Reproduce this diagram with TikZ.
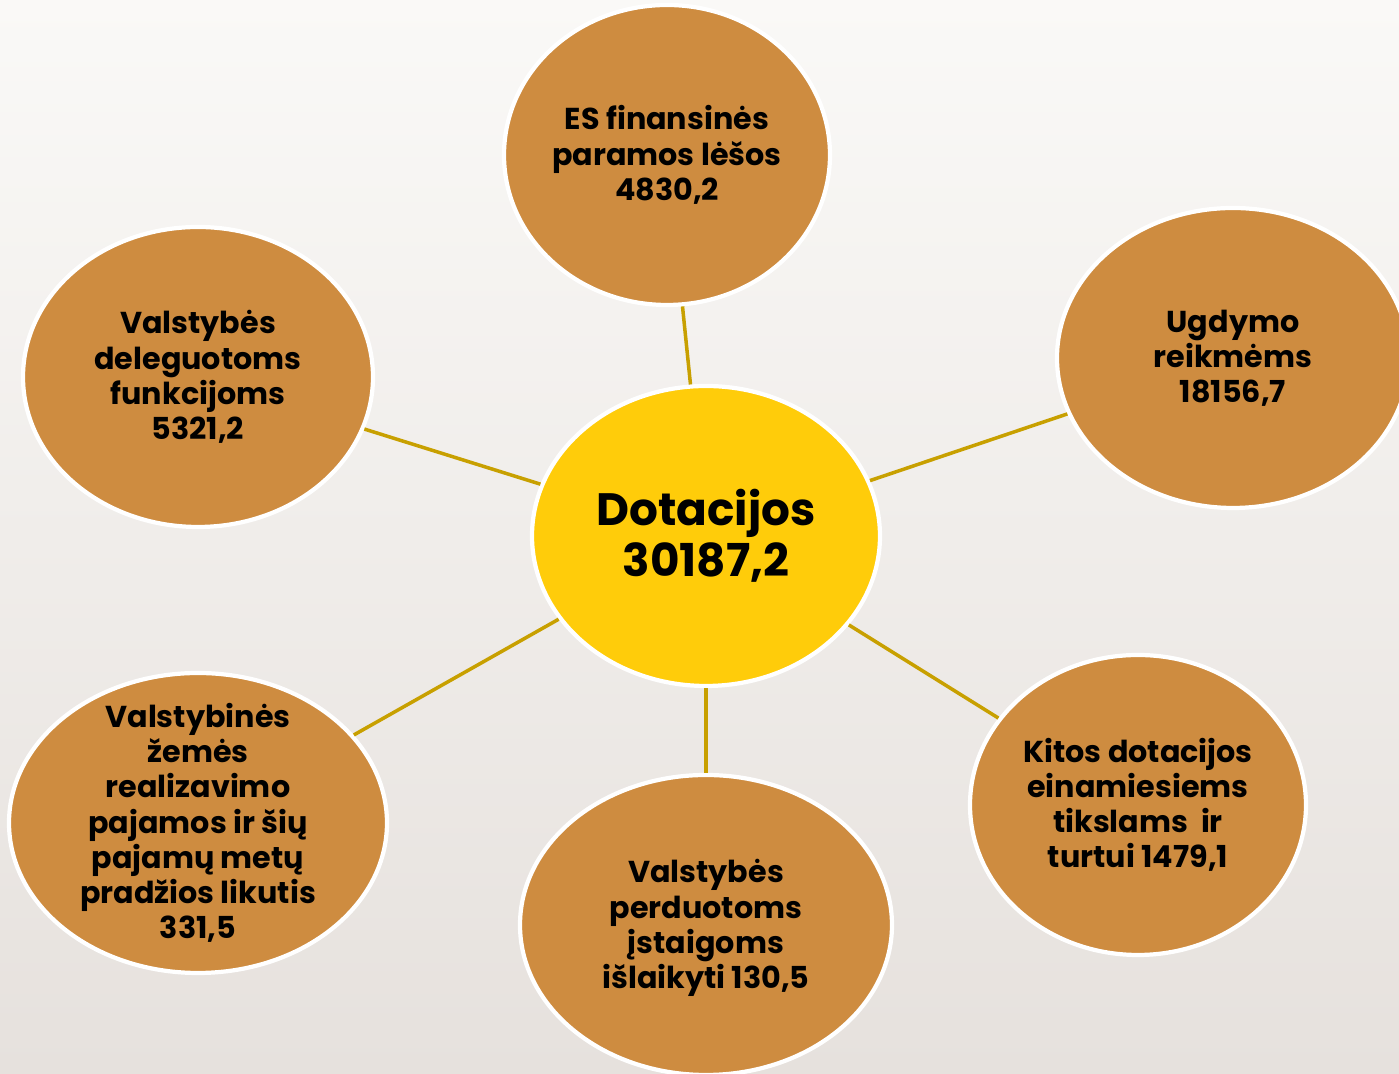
\documentclass[tikz,border=0pt]{standalone}
\usepackage{fontspec}
\setmainfont{Poppins}
\usetikzlibrary{shapes.geometric}
\definecolor{bgtop}{RGB}{250,249,247}
\definecolor{bgbot}{RGB}{230,225,221}
\definecolor{bubblefill}{RGB}{206,140,64}
\definecolor{hubfill}{RGB}{255,204,10}
\definecolor{linkcol}{RGB}{200,160,0}

\begin{document}
\begin{tikzpicture}[
  bubble/.style={ellipse, fill=bubblefill, draw=white, line width=1.2pt, inner sep=0pt, minimum height=3.00cm},
  txt/.style={align=center, font=\bfseries\fontsize{8.6}{10}\selectfont, inner sep=0pt},
  link/.style={draw=linkcol, line width=1pt}]
\clip (0,0) rectangle (13.99,10.74);
\shade[top color=bgtop, bottom color=bgbot] (0,0) rectangle (13.99,10.74); % background

\node[ellipse, fill=hubfill, draw=white, line width=1.2pt, inner sep=0pt, minimum width=3.48cm, minimum height=3.00cm] (hub) at (07.0600,05.3800){};
\node[bubble, minimum width=3.26cm] (es)   at (06.6700,09.1900){};
\node[bubble, minimum width=3.52cm] (ugd)  at (12.3300,07.1600){};
\node[bubble, minimum width=3.36cm] (kit)  at (11.3800,02.6900){};
\node[bubble, minimum width=3.72cm] (perd) at (07.0600,01.4900){};
\node[bubble, minimum width=3.78cm] (zem)  at (01.9800,02.5100){};
\node[bubble, minimum width=3.50cm] (deleg) at (01.9800,06.9700){};

\foreach \n in {es,ugd,kit,perd,zem,deleg} \draw[link] (hub) -- (\n);

\node[align=center, inner sep=0pt, font=\bfseries\fontsize{12.9}{14.4}\selectfont] (hubT) at (hub) {Dotacijos\\30187,2}; % the centre
\node[txt] (esT)    at (es)    {ES finansinės\\paramos lėšos\\4830,2};
\node[txt] (ugdT)   at (ugd)   {Ugdymo\\reikmėms\\18156,7};
\node[txt] (kitT)   at (kit)   {Kitos dotacijos\\einamiesiems\\tikslams\ \ ir\\turtui 1479,1};
\node[txt] (perdT)  at ([yshift=-0.03cm]perd.center) {Valstybės\\perduotoms\\įstaigoms\\išlaikyti 130,5};
\node[txt] (zemT)   at (zem)   {Valstybinės\\žemės\\realizavimo\\pajamos ir šių\\pajamų metų\\pradžios likutis\\331,5};
\node[txt] (delegT) at (deleg) {Valstybės\\deleguotoms\\funkcijoms\\5321,2};
\end{tikzpicture}
\end{document}
